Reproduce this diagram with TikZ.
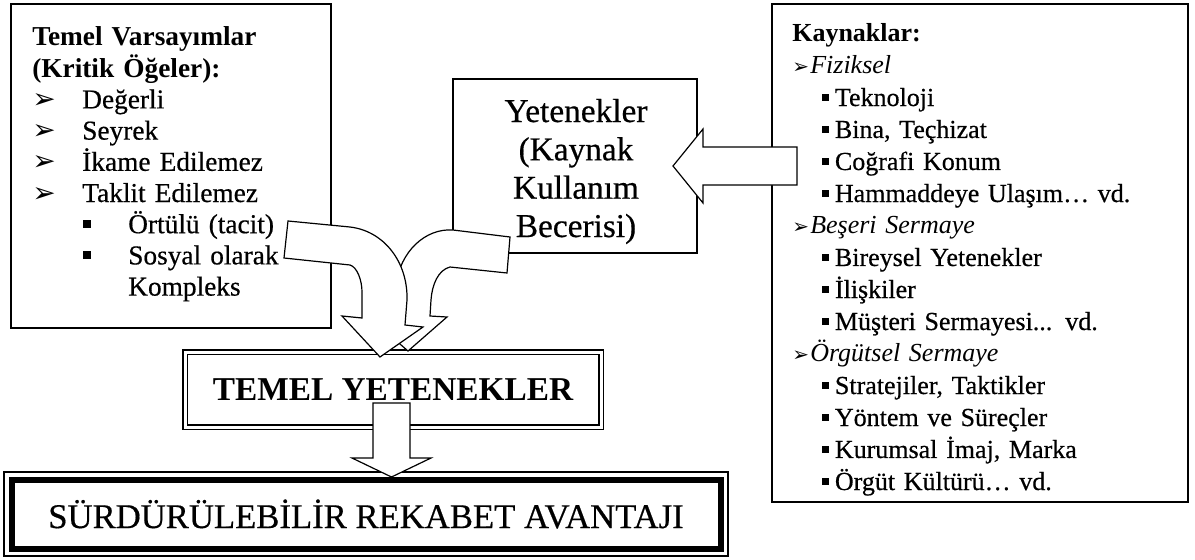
\documentclass[tikz,border=0pt]{standalone}
\usepackage{fontspec}
\setmainfont{Liberation Serif}[UprightFeatures={FakeBold=0.5}]
\newfontfamily\sembol{DejaVu Sans}
\usetikzlibrary{positioning}

% madde isaretleri
\newcommand{\ok}[1]{{\fontsize{#1}{#1}\sembol ➢}}
\newcommand{\kare}[1]{\rule[0.2em]{#1}{#1}}

\begin{document}
\begin{tikzpicture}[x=0.75pt, y=-0.75pt, line join=miter,
		kutu/.style={rectangle, draw, line width=0.9pt, inner sep=0pt, outer sep=0pt},
		yazi/.style={inner sep=0pt, anchor=base west, align=left},
		blokok/.style={draw, fill=white, line width=0.9pt}]

		\useasboundingbox (0,0) rectangle (1195,560);

		% --- Kutular ---
		\node[kutu, minimum width=240pt, minimum height=243pt] (varsayim) at (171,166) {};
		\node[kutu, minimum width=183pt, minimum height=130.5pt] (yetenek) at (575,166) {};
		\node[kutu, minimum width=312pt, minimum height=373.5pt] (kaynak) at (980,253) {};

		\node[kutu, double, line width=1.1pt, double distance=2.25pt, minimum width=312pt, minimum height=56.25pt, font=\fontsize{25}{28}\selectfont\bfseries] (temel) at (393,389.5)
		{TEMEL YETENEKLER};

		\node[kutu, line width=4.5pt, minimum width=531.75pt, minimum height=51.75pt, font=\fontsize{26}{30}\selectfont] (avantaj) at (366,514)
		{SÜRDÜRÜLEBİLİR REKABET AVANTAJI};
		\draw[line width=0.9pt] ([shift={(-7.5,-7.5)}]avantaj.north west) rectangle ([shift={(7.5,7.5)}]avantaj.south east);

		% --- Kutu yazilari ---
		\node[yazi, text width=200pt, font=\fontsize{20.5}{23.4}\selectfont] (varsayimyazi) at (32,46)
		{\textbf{Temel Varsayımlar}\\
		\textbf{(Kritik Öğeler):}\\
		\makebox[37.5pt][l]{\ok{21}}Değerli\\
		\makebox[37.5pt][l]{\ok{21}}Seyrek\\
		\makebox[37.5pt][l]{\ok{21}}İkame Edilemez\\
		\makebox[37.5pt][l]{\ok{21}}Taklit Edilemez\\
		\hspace*{38pt}\makebox[34pt][l]{\kare{6pt}}Örtülü (tacit)\\
		\hspace*{38pt}\makebox[34pt][l]{\kare{6pt}}Sosyal olarak\\
		\hspace*{72pt}Kompleks};

		\node[yazi, anchor=base, text width=170pt, align=center, font=\fontsize{25}{28.75}\selectfont] (yetenekyazi) at (576,122)
		{Yetenekler\\(Kaynak\\Kullanım\\Becerisi)};

		\node[yazi, text width=280pt, font=\fontsize{19.5}{24}\selectfont] (kaynakyazi) at (792,42)
		{\textbf{Kaynaklar:}\\
		\makebox[13.5pt][l]{\ok{15}}\textit{Fiziksel}\\
		\hspace*{22.5pt}\makebox[9.5pt][l]{\kare{5.25pt}}Teknoloji\\
		\hspace*{22.5pt}\makebox[9.5pt][l]{\kare{5.25pt}}Bina, Teçhizat\\
		\hspace*{22.5pt}\makebox[9.5pt][l]{\kare{5.25pt}}Coğrafi Konum\\
		\hspace*{22.5pt}\makebox[9.5pt][l]{\kare{5.25pt}}Hammaddeye Ulaşım… vd.\\
		\makebox[13.5pt][l]{\ok{15}}\textit{Beşeri Sermaye}\\
		\hspace*{22.5pt}\makebox[9.5pt][l]{\kare{5.25pt}}Bireysel Yetenekler\\
		\hspace*{22.5pt}\makebox[9.5pt][l]{\kare{5.25pt}}İlişkiler\\
		\hspace*{22.5pt}\makebox[9.5pt][l]{\kare{5.25pt}}Müşteri Sermayesi... vd.\\
		\makebox[13.5pt][l]{\ok{15}}\textit{Örgütsel Sermaye}\\
		\hspace*{22.5pt}\makebox[9.5pt][l]{\kare{5.25pt}}Stratejiler, Taktikler\\
		\hspace*{22.5pt}\makebox[9.5pt][l]{\kare{5.25pt}}Yöntem ve Süreçler\\
		\hspace*{22.5pt}\makebox[9.5pt][l]{\kare{5.25pt}}Kurumsal İmaj, Marka\\
		\hspace*{22.5pt}\makebox[9.5pt][l]{\kare{5.25pt}}Örgüt Kültürü… vd.};

		% --- Blok oklar ---
		\draw[blokok] (510,237) -- (453,230) .. controls (425,228) and (400,252) .. (396,285) -- (394,318) -- (370,318) -- (408,351) -- (447,317) -- (430,316) -- (431,300) .. controls (432,285) and (438,270) .. (450,267) -- (507,273) -- cycle;
		\draw[blokok] (288,221) -- (350,227) .. controls (384,231) and (408,262) .. (407,300) -- (405,325) -- (423,327) -- (380,357) -- (342,316) -- (362,318) -- (362,292) .. controls (362,280) and (357,267) .. (350,265) -- (284,258) -- cycle;
		\draw[blokok] (373,403) -- (410,403) -- (410,458) -- (431,458) -- (391.5,477) -- (352,458) -- (373,458) -- cycle;
		\draw[blokok] (797,147) -- (703,147) -- (703,129) -- (673,166) -- (703,203) -- (703,185) -- (797,185) -- cycle;

	\end{tikzpicture}
\end{document}
